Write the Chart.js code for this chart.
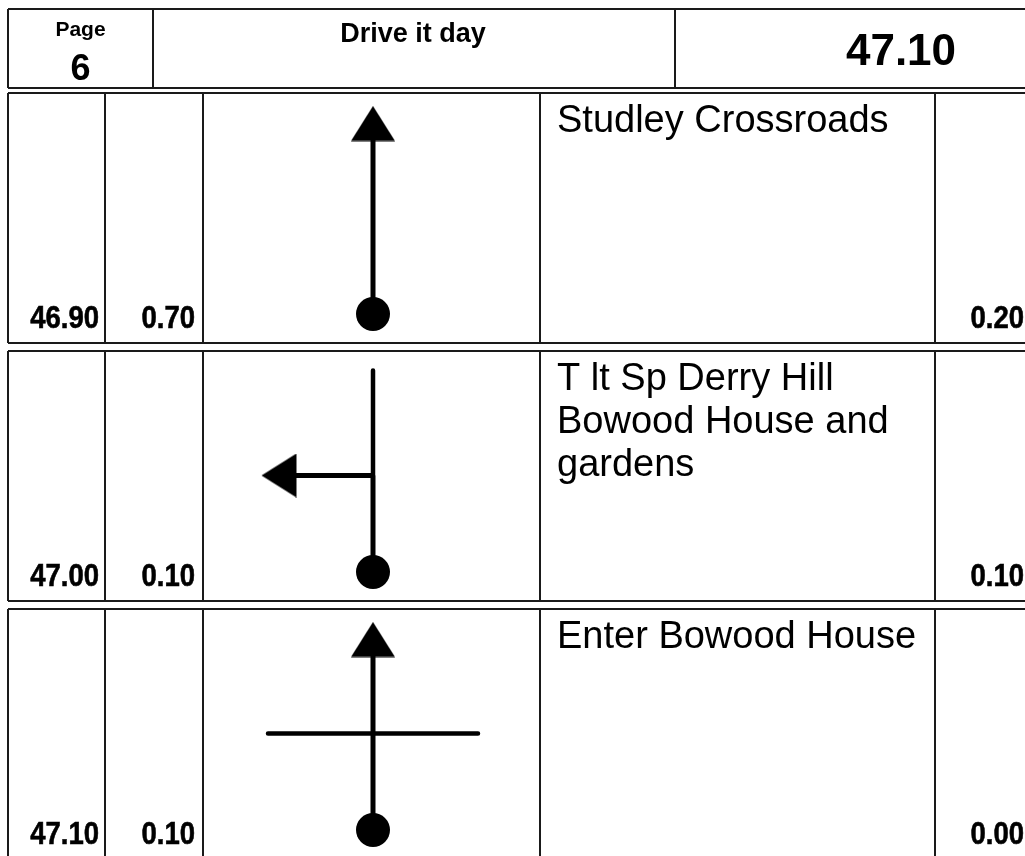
<!DOCTYPE html>
<html>
<head>
<meta charset="utf-8">
<script src="https://cdn.jsdelivr.net/npm/chart.js@4.4.0/dist/chart.umd.min.js"></script>
<style>
html, body { margin: 0; padding: 0; background: #fff; }
canvas { display: block; }
</style>
</head>
<body>
<canvas id="page" width="1025" height="856"></canvas>
<script>
// roadbook data
const pageNumber = 6;
const pageTitle = 'Drive it day';
const pageTotal = 47.10;
const totals = [46.90, 47.00, 47.10];
const partials = [0.70, 0.10, 0.10];
const remaining = [0.20, 0.10, 0.00];
const instructions = [
    ['Studley Crossroads'],
    ['T lt Sp Derry Hill', 'Bowood House and', 'gardens'],
    ['Enter Bowood House']
];
// tulip: angle of the road taken (0 = straight on, -90 = left), and the other roads at the junction
const exitAngles = [0, -90, 0];
const otherRoads = [[], [0], [-90, 90]];

// layout, in page pixels
const W = 1025, H = 856;
const headTop = 9, headBottom = 88;
const headCols = [8, 153, 675];
const rowTop0 = 93, rowHeight = 250, rowGap = 8;
const rowCols = [8, 105, 203, 540, 935];
const tulipX = 373, junctionDrop = 124.5, entryLen = 96.5, exitLen = 112, otherLen = 105;
const sansFont = "'Liberation Sans', Arial, Helvetica, sans-serif";

function rowTop(i) { return rowTop0 + i * (rowHeight + rowGap); }

function seg(pts, x1, y1, x2, y2) {
    pts.push({x: x1, y: y1}, {x: x2, y: y2}, {x: x2, y: null});
}

// cell borders
const borderPts = [];
seg(borderPts, headCols[0], headTop, W, headTop);
seg(borderPts, headCols[0], headBottom, W, headBottom);
headCols.forEach(function (x) { seg(borderPts, x, headTop, x, headBottom); });
for (let i = 0; i < totals.length; i++) {
    const t = rowTop(i), b = t + rowHeight;
    seg(borderPts, rowCols[0], t, W, t);
    seg(borderPts, rowCols[0], b, W, b);
    rowCols.forEach(function (x) { seg(borderPts, x, t, x, b); });
}

// tulips
const roadPts = [];
const otherPts = [];
const arrowPts = [];
const dotPts = [];
for (let i = 0; i < exitAngles.length; i++) {
    const cy = rowTop(i) + junctionDrop;
    const a = exitAngles[i] * Math.PI / 180;
    const dx = Math.sin(a), dy = -Math.cos(a);
    seg(roadPts, tulipX, cy + entryLen, tulipX, cy);
    seg(roadPts, tulipX, cy, tulipX + dx * (exitLen - 28), cy + dy * (exitLen - 28));
    arrowPts.push({x: tulipX + dx * (exitLen - 18), y: cy + dy * (exitLen - 18)});
    dotPts.push({x: tulipX, y: cy + entryLen});
    otherRoads[i].forEach(function (deg) {
        const b = deg * Math.PI / 180;
        seg(otherPts, tulipX, cy, tulipX + Math.sin(b) * otherLen, cy - Math.cos(b) * otherLen);
    });
}

const arrowImg = document.createElement('canvas');
arrowImg.width = 44;
arrowImg.height = 36;
const g = arrowImg.getContext('2d');
g.fillStyle = '#000';
g.beginPath();
g.moveTo(22, 0.5);
g.lineTo(44, 35.5);
g.lineTo(0, 35.5);
g.closePath();
g.fill();

function drawNumber(ctx, text, x, y) {
    ctx.save();
    ctx.translate(x, y);
    ctx.scale(0.86, 1);
    ctx.font = 'bold 32px ' + sansFont;
    ctx.textAlign = 'right';
    ctx.textBaseline = 'alphabetic';
    ctx.lineWidth = 0.6;
    ctx.strokeStyle = '#000';
    ctx.fillText(text, 0, 0);
    ctx.strokeText(text, 0, 0);
    ctx.restore();
}

const textPlugin = {
    id: 'roadbookText',
    afterDraw: function (chart) {
        const ctx = chart.ctx;
        const sx = chart.scales.x, sy = chart.scales.y;
        const px = function (v) { return sx.getPixelForValue(v); };
        const py = function (v) { return sy.getPixelForValue(v); };
        ctx.save();
        ctx.fillStyle = '#000';
        ctx.textBaseline = 'alphabetic';
        ctx.textAlign = 'center';
        ctx.font = 'bold 21px ' + sansFont;
        ctx.fillText('Page', px(80.5), py(36));
        ctx.font = 'bold 36px ' + sansFont;
        ctx.fillText(String(pageNumber), px(80.5), py(80));
        ctx.font = 'bold 27px ' + sansFont;
        ctx.fillText(pageTitle, px(413), py(42));
        ctx.font = 'bold 44px ' + sansFont;
        ctx.fillText(pageTotal.toFixed(2), px(901), py(65));

        for (let i = 0; i < totals.length; i++) {
            const t = rowTop(i), b = t + rowHeight;
            drawNumber(ctx, totals[i].toFixed(2), px(99), py(b - 15));
            drawNumber(ctx, partials[i].toFixed(2), px(195), py(b - 15));
            drawNumber(ctx, remaining[i].toFixed(2), px(1024), py(b - 15));
            ctx.textAlign = 'left';
            ctx.font = '38px ' + sansFont;
            instructions[i].forEach(function (line, k) {
                ctx.fillText(line, px(557), py(t + 39 + k * 43));
            });
            ctx.textAlign = 'center';
        }
        ctx.restore();
    }
};

new Chart(document.getElementById('page'), {
    type: 'line',
    data: {
        datasets: [
            {
                label: 'dots',
                data: dotPts,
                showLine: false,
                pointRadius: 17,
                pointStyle: 'circle',
                pointBackgroundColor: '#000',
                pointBorderWidth: 0,
                clip: false
            },
            {
                label: 'arrows',
                data: arrowPts,
                showLine: false,
                pointRadius: 20,
                pointStyle: arrowImg,
                pointRotation: exitAngles,
                clip: false
            },
            {
                label: 'roads',
                data: roadPts,
                borderColor: '#000',
                borderWidth: 5,
                pointRadius: 0,
                spanGaps: false,
                clip: false
            },
            {
                label: 'other roads',
                data: otherPts,
                borderColor: '#000',
                borderWidth: 4.5,
                borderCapStyle: 'round',
                pointRadius: 0,
                spanGaps: false,
                clip: false
            },
            {
                label: 'borders',
                data: borderPts,
                borderColor: '#1a1a1a',
                borderWidth: 2,
                pointRadius: 0,
                spanGaps: false,
                clip: false
            }
        ]
    },
    options: {
        responsive: false,
        maintainAspectRatio: false,
        animation: false,
        events: [],
        layout: { padding: 0, autoPadding: false },
        scales: {
            x: { type: 'linear', min: 0, max: W, display: false },
            y: { type: 'linear', min: 0, max: H, reverse: true, display: false }
        },
        plugins: {
            legend: { display: false },
            tooltip: { enabled: false }
        }
    },
    plugins: [textPlugin]
});
</script>
</body>
</html>
